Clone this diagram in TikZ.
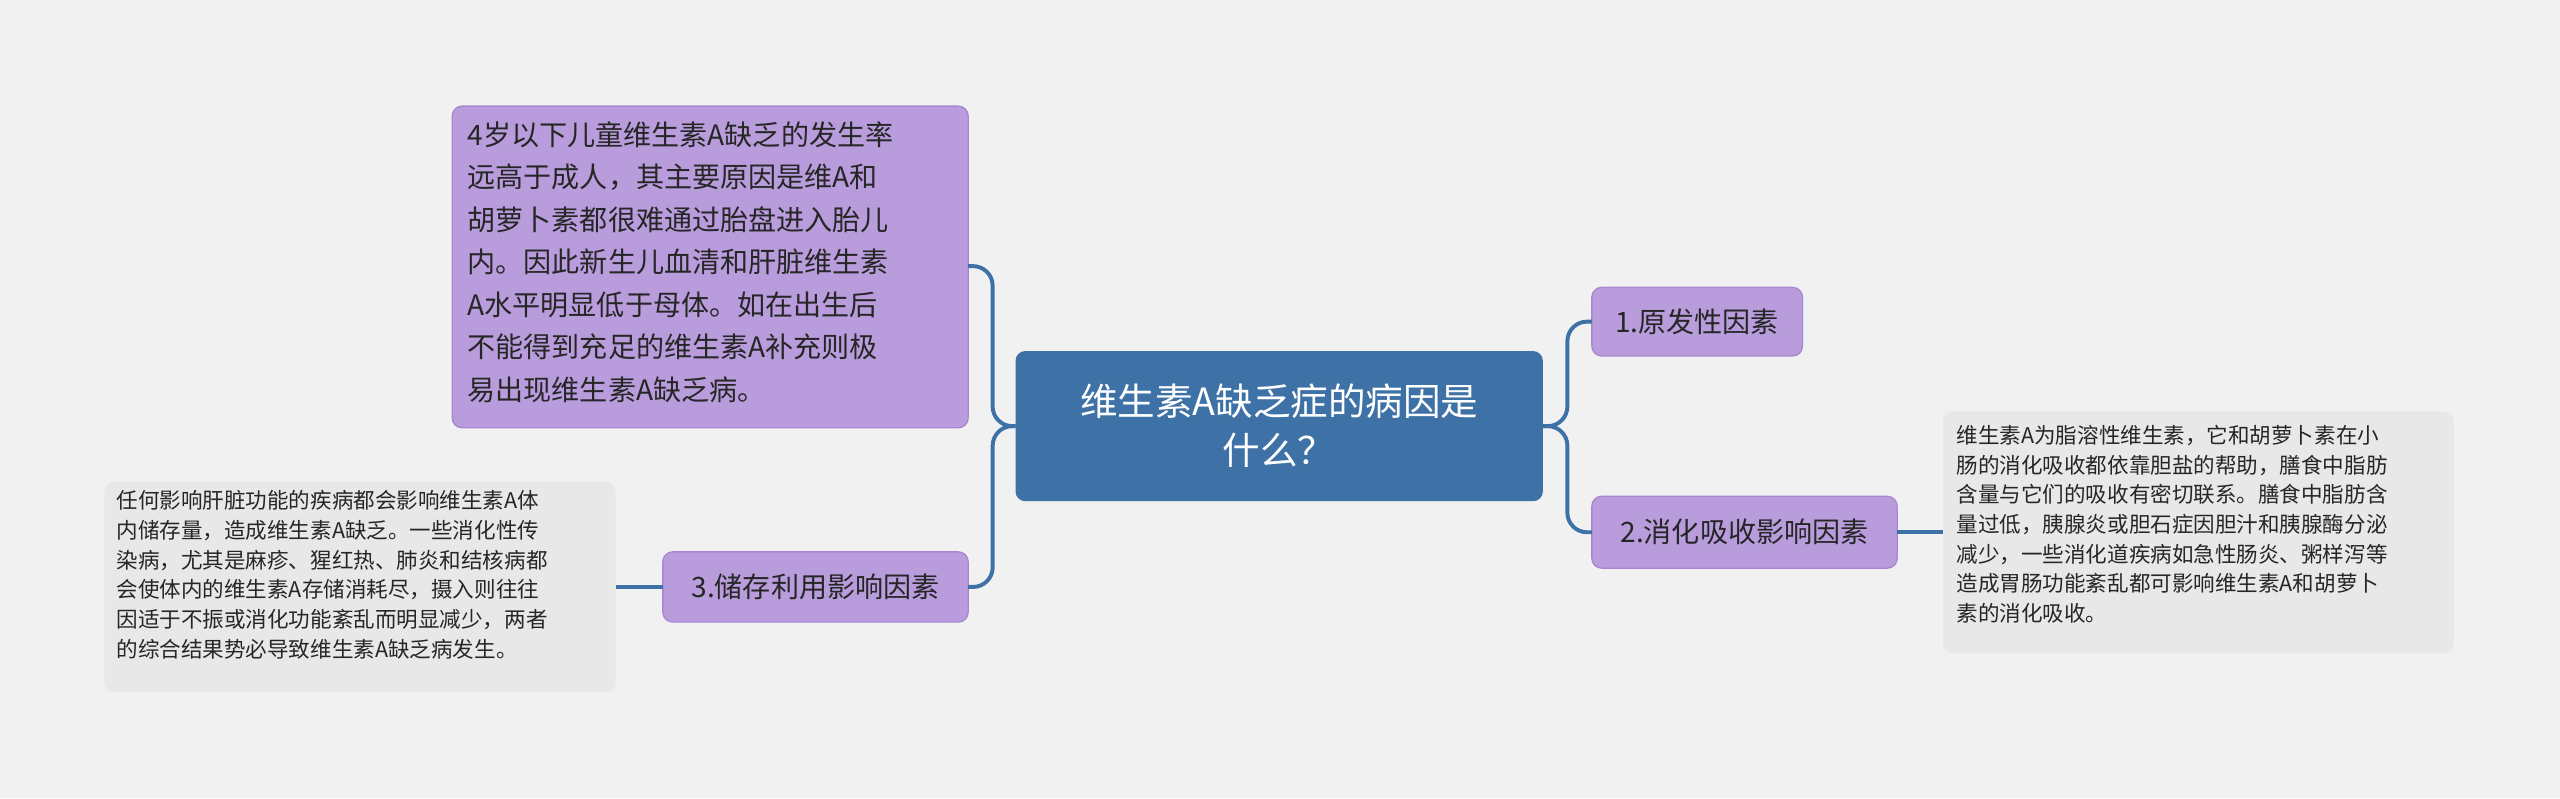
\documentclass[tikz,border=0pt]{standalone}
\usepackage{fontspec}
\setmainfont{Noto Sans CJK SC}
\begin{document}
\begin{tikzpicture}[x=0.5pt,y=-0.5pt,
  lav/.style={fill=purple!8!blue!0!white, draw=none},
  conn/.style={draw=linec, line width=1.2pt, rounded corners=6pt}]
\definecolor{bg}{HTML}{F1F1F1}
\definecolor{cen}{HTML}{3E72A6}
\definecolor{lv}{HTML}{B89CDC}
\definecolor{lvd}{HTML}{A887D0}
\definecolor{gr}{HTML}{E8E8E8}
\definecolor{linec}{HTML}{3E72A6}
\tikzset{pbox/.style={fill=lv, draw=lvd, line width=0.4pt, rounded corners=3pt, inner sep=0pt, outer sep=0pt},
  gbox/.style={fill=gr, rounded corners=3pt, inner sep=0pt, outer sep=0pt}}
\fill[bg] (0,0) rectangle (1568,489);
\useasboundingbox (0,0) rectangle (1568,489);
% boxes
\fill[cen, rounded corners=3pt] (622,215) rectangle (945,307);
\node[text=white, font=\fontsize{11.5}{15}\selectfont, align=center] (c) at (783.5,261) {维生素A缺乏症的病因是\\什么？};
\draw[pbox] (277,65) rectangle (593,262);
\node[anchor=north west, font=\fontsize{8.6}{13}\selectfont, align=left, text=black!85, inner sep=0pt] (t) at (286,74) {4岁以下儿童维生素A缺乏的发生率\\远高于成人，其主要原因是维A和\\胡萝卜素都很难通过胎盘进入胎儿\\内。因此新生儿血清和肝脏维生素\\A水平明显低于母体。如在出生后\\不能得到充足的维生素A补充则极\\易出现维生素A缺乏病。};
\draw[pbox] (406,338) rectangle (593,381);
\node[font=\fontsize{8.6}{13}\selectfont, text=black!85] (b3) at (499.5,359.5) {3.储存利用影响因素};
\fill[gr, rounded corners=3pt] (64,295) rectangle (377,424);
\node[anchor=north west, font=\fontsize{6.6}{9.1}\selectfont, align=left, text=black!85, inner sep=0pt] (g1) at (71,300) {任何影响肝脏功能的疾病都会影响维生素A体\\内储存量，造成维生素A缺乏。一些消化性传\\染病，尤其是麻疹、猩红热、肺炎和结核病都\\会使体内的维生素A存储消耗尽，摄入则往往\\因适于不振或消化功能紊乱而明显减少，两者\\的综合结果势必导致维生素A缺乏病发生。};
\draw[pbox] (975,176) rectangle (1104,218);
\node[font=\fontsize{8.6}{13}\selectfont, text=black!85] (b1) at (1039.5,197) {1.原发性因素};
\draw[pbox] (975,304) rectangle (1162,348);
\node[font=\fontsize{8.6}{13}\selectfont, text=black!85] (b2) at (1068.5,326) {2.消化吸收影响因素};
\fill[gr, rounded corners=3pt] (1190,252) rectangle (1503,400);
\node[anchor=north west, font=\fontsize{6.6}{9.1}\selectfont, align=left, text=black!85, inner sep=0pt] (g2) at (1198,260) {维生素A为脂溶性维生素，它和胡萝卜素在小\\肠的消化吸收都依靠胆盐的帮助，膳食中脂肪\\含量与它们的吸收有密切联系。膳食中脂肪含\\量过低，胰腺炎或胆石症因胆汁和胰腺酶分泌\\减少，一些消化道疾病如急性肠炎、粥样泻等\\造成胃肠功能紊乱都可影响维生素A和胡萝卜\\素的消化吸收。};
% connectors
\coordinate (cl) at (622,261); \coordinate (cr) at (945,261);
\draw[conn] (cl) -- (608,261) |- (593,163);
\draw[conn] (cl) -- (608,261) |- (593,359.5);
\draw[conn] (cr) -- (960,261) |- (975,197);
\draw[conn] (cr) -- (960,261) |- (975,326);
\draw[conn] (406,359.5) -- (377,359.5);
\draw[conn] (1162,326) -- (1190,326);
\end{tikzpicture}
\end{document}
